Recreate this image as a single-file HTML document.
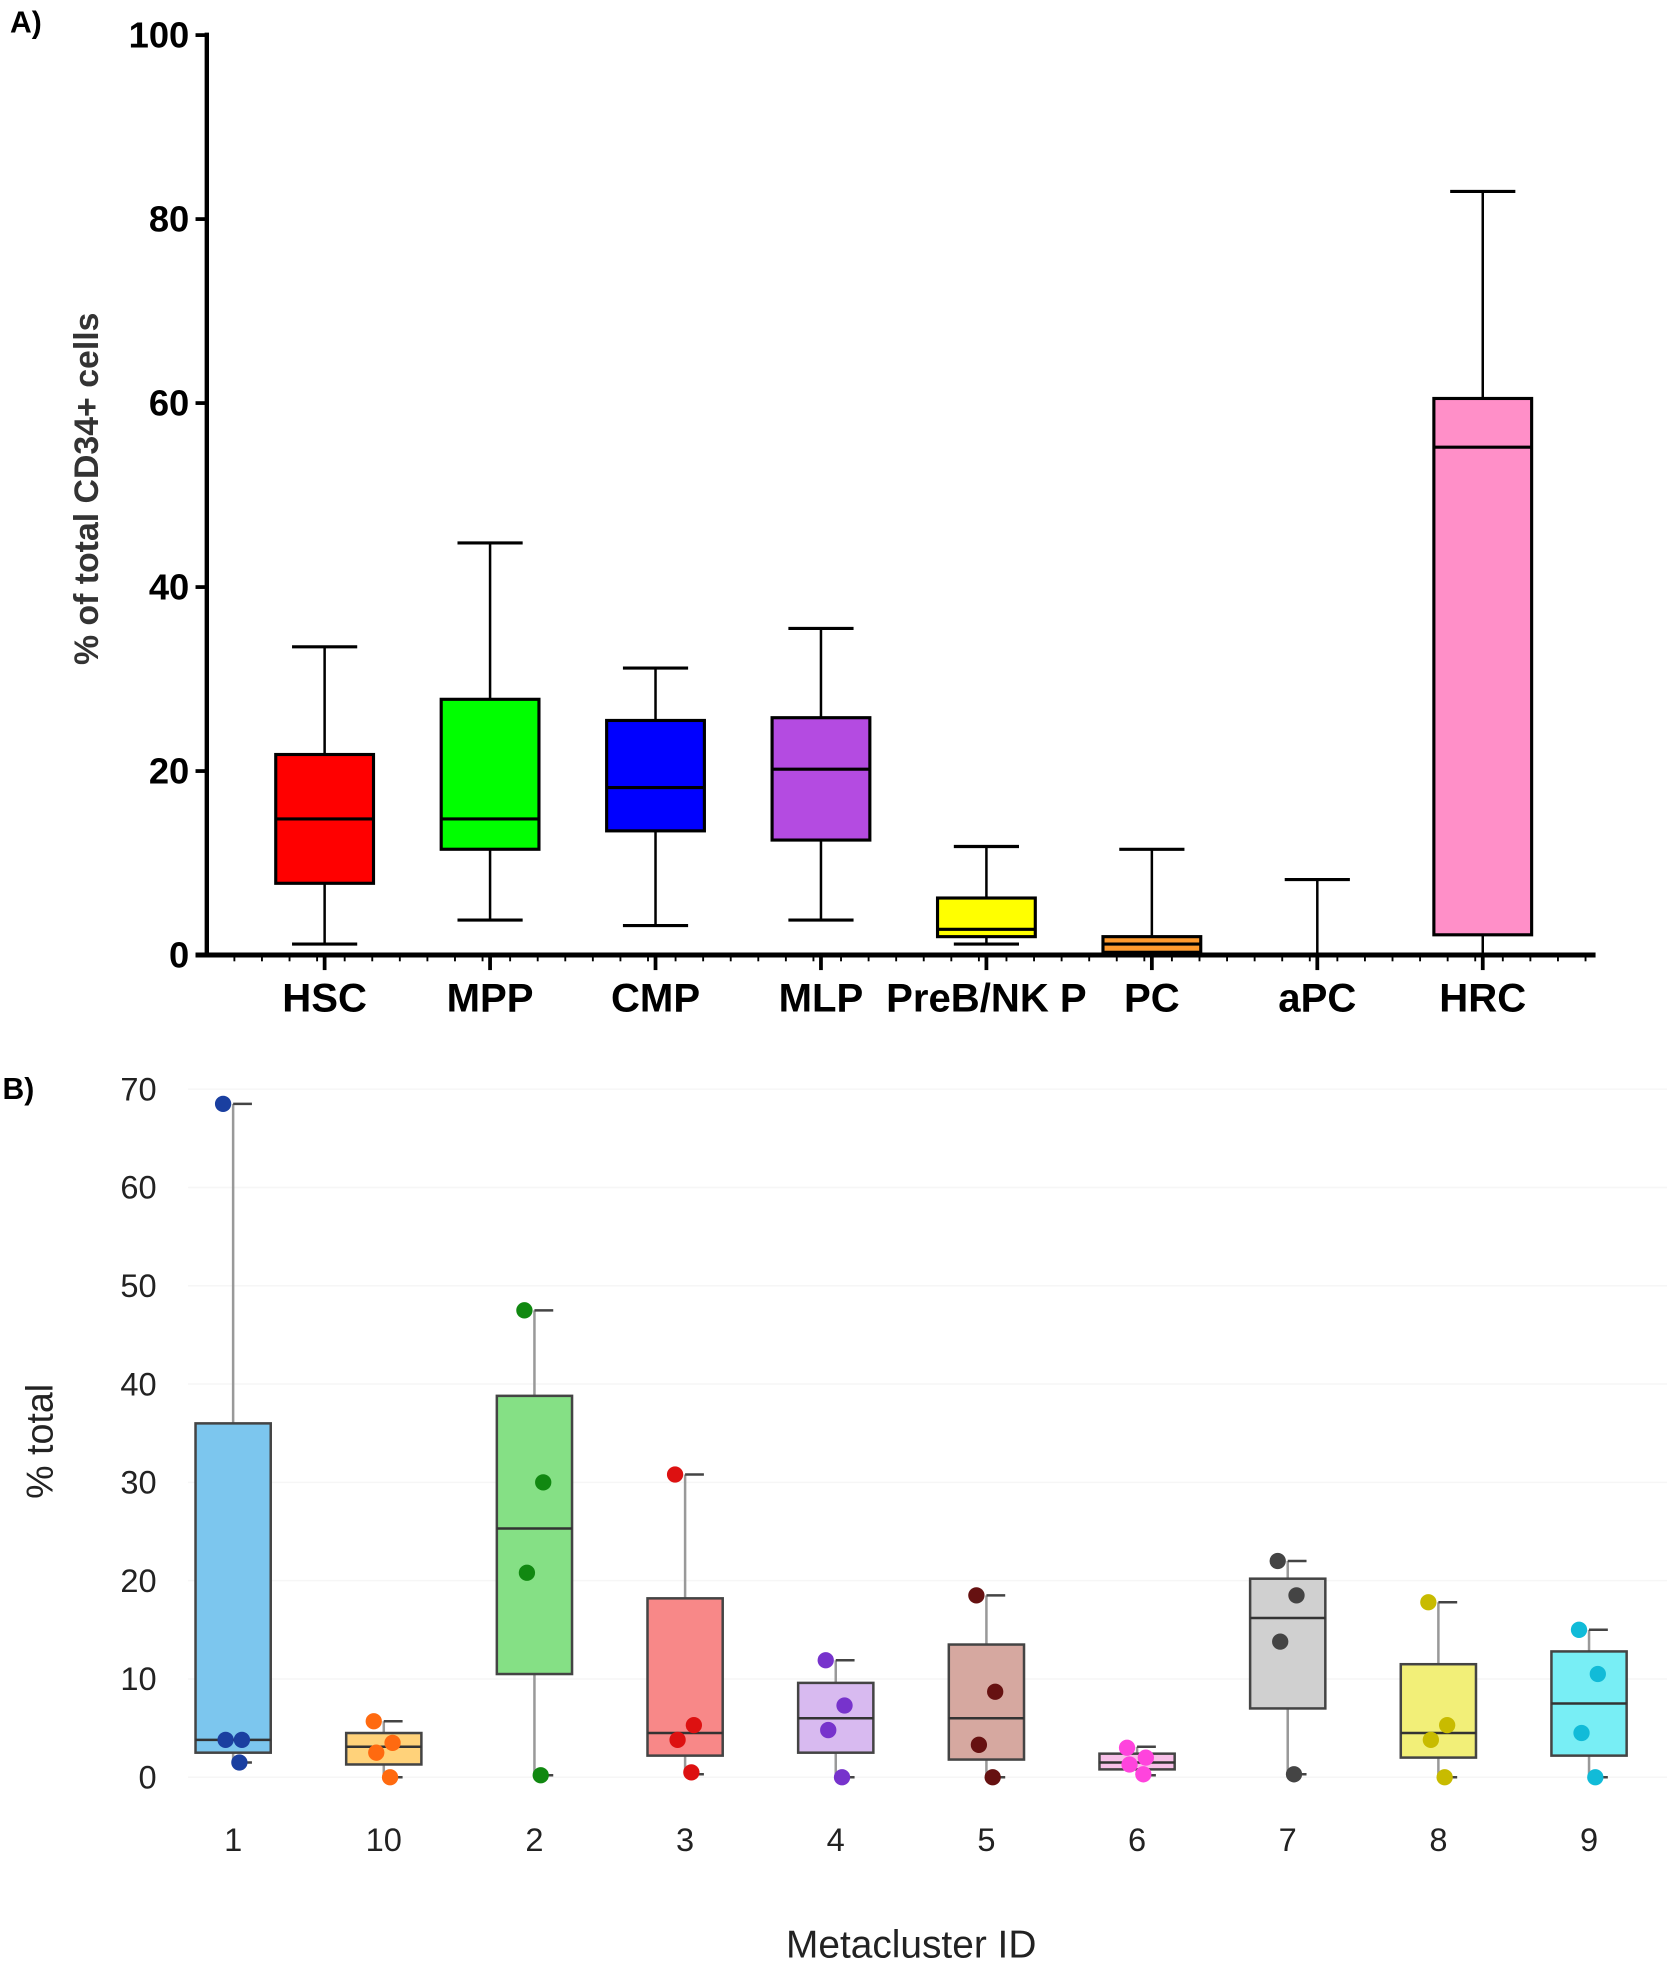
<!DOCTYPE html>
<html><head><meta charset="utf-8"><style>
html,body{margin:0;padding:0;background:#fff}
svg{display:block}
text{font-family:"Liberation Sans",sans-serif}
.cond{font-family:"Liberation Sans Narrow","Liberation Sans",sans-serif}
</style></head><body>
<svg id="chart" width="1667" height="1964" viewBox="0 0 1330 1567" preserveAspectRatio="none" xmlns="http://www.w3.org/2000/svg">
<g id="panelA"></g>
<g id="panelB"></g>
</svg>
<script>
// ---------- Panel A data ----------
const aCategories = ["HSC","MPP","CMP","MLP","PreB/NK P","PC","aPC","HRC"];
const aMin = [1.2, 3.8, 3.2, 3.8, 1.2, 0, 0, 0];
const aQ1 = [7.8, 11.5, 13.5, 12.5, 2.0, 0.3, 0, 2.2];
const aMed = [14.8, 14.8, 18.2, 20.2, 2.8, 1.2, 0, 55.2];
const aQ3 = [21.8, 27.8, 25.5, 25.8, 6.2, 2.0, 0, 60.5];
const aMax = [33.5, 44.8, 31.2, 35.5, 11.8, 11.5, 8.2, 83];
const aColors = ["#ff0000","#00ff00","#0000ff","#b44be1","#ffff00","#ff9a2e","#999999","#ff8fc8"];
const aTicks = [0,20,40,60,80,100];

// ---------- Panel B data ----------
const bCategories = ["1","10","2","3","4","5","6","7","8","9"];
const bLo = [1.5, 0, 0.2, 0.3, 0, 0, 0.2, 0.3, 0, 0];
const bQ1 = [2.5, 1.3, 10.5, 2.2, 2.5, 1.8, 0.8, 7, 2, 2.2];
const bMed = [3.8, 3.1, 25.3, 4.5, 6, 6, 1.5, 16.2, 4.5, 7.5];
const bQ3 = [36, 4.5, 38.8, 18.2, 9.6, 13.5, 2.4, 20.2, 11.5, 12.8];
const bHi = [68.5, 5.7, 47.5, 30.8, 11.9, 18.5, 3.1, 22, 17.8, 15];
const bPoints = [[68.5,3.8,3.8,1.5],[5.7,3.5,2.5,0],[47.5,30,20.8,0.2],[30.8,5.3,3.8,0.5],[11.9,7.3,4.8,0],[18.5,8.7,3.3,0],[3.0,2.0,1.3,0.3],[22,18.5,13.8,0.3],[17.8,5.3,3.8,0],[15,10.5,4.5,0]];
const bFill = ["#7cc6ee","#ffd27a","#85e085","#f88888","#d8baf0","#d6a8a0","#f8c0e8","#d0d0d0","#f2ef78","#78eef5"];
const bDot = ["#1a3fa0","#ff6a10","#118811","#dd1111","#7733cc","#661111","#ff44dd","#444444","#c8bb00","#11bbd8"];
const bTicks = [0,10,20,30,40,50,60,70];

const NS="http://www.w3.org/2000/svg";
function mk(parent,tag,attrs,txt){const e=document.createElementNS(NS,tag);for(const k in attrs)e.setAttribute(k,attrs[k]);if(txt!==undefined)e.textContent=txt;parent.appendChild(e);return e;}

// ---------- Panel A ----------
(function(){
const g=document.getElementById('panelA');
const x0=165,x1=1273,yTop=28,yBot=762;
const y=v=>yBot-(v/100)*(yBot-yTop);
const xc=i=>259+i*132;
let t=mk(g,'text',{x:8,y:26,'font-size':24,'font-weight':'bold'},'A)');


for(let mx=x0+22;mx<x1;mx+=22){mk(g,'line',{x1:mx,x2:mx,y1:yBot,y2:yBot+5,stroke:'#000','stroke-width':1.5});}
aTicks.forEach(v=>{
  let l=mk(g,'line',{x1:x0-9,x2:x0,y1:y(v),y2:y(v),stroke:'#000','stroke-width':3});
  
  
  let tl=mk(g,'text',{x:x0-14,y:y(v)+10,'text-anchor':'end','font-size':29,'font-weight':'bold',class:'cond'},String(v));
  
  
});
let ax=mk(g,'line',{x1:x0,x2:x0,y1:yTop-2,y2:yBot+2,stroke:'#000','stroke-width':3.5});


let axx=mk(g,'line',{x1:x0-9,x2:x1,y1:yBot,y2:yBot,stroke:'#000','stroke-width':4});


let yt=mk(g,'text',{x:0,y:0,'font-size':27,'font-weight':'bold',fill:'#333','text-anchor':'middle',transform:'translate(78,390) rotate(-90)'},'% of total CD34+ cells');


const w=78;
aCategories.forEach((c,i)=>{
  const cx=xc(i);
  mk(g,'line',{x1:cx,x2:cx,y1:yBot,y2:yBot+12,stroke:'#000','stroke-width':3});
  let cl=mk(g,'text',{x:cx,y:807,'text-anchor':'middle','font-size':32,'font-weight':'bold',class:'cond'},c);
  
  
  const bg=mk(g,'g',{});
  
  
  mk(bg,'line',{x1:cx,x2:cx,y1:y(aMax[i]),y2:y(aQ3[i]),stroke:'#000','stroke-width':2});
  mk(bg,'line',{x1:cx,x2:cx,y1:y(aQ1[i]),y2:y(aMin[i]),stroke:'#000','stroke-width':2});
  mk(bg,'line',{x1:cx-w/3,x2:cx+w/3,y1:y(aMax[i]),y2:y(aMax[i]),stroke:'#000','stroke-width':2.5});
  mk(bg,'line',{x1:cx-w/3,x2:cx+w/3,y1:y(aMin[i]),y2:y(aMin[i]),stroke:'#000','stroke-width':2.5});
  if(aQ3[i]>aQ1[i]){
    mk(bg,'rect',{x:cx-w/2,y:y(aQ3[i]),width:w,height:y(aQ1[i])-y(aQ3[i]),fill:aColors[i],stroke:'#000','stroke-width':2.5});
    mk(bg,'line',{x1:cx-w/2,x2:cx+w/2,y1:y(aMed[i]),y2:y(aMed[i]),stroke:'#000','stroke-width':2.5});
  }
});
})();

// ---------- Panel B ----------
(function(){
const g=document.getElementById('panelB');
const x0=150,x1=1330,y0=1418,y70=869;
const y=v=>y0-(v/70)*(y0-y70);
const xc=i=>186+i*120.2;
let t=mk(g,'text',{x:2,y:877,'font-size':24,'font-weight':'bold'},'B)');


bTicks.forEach(v=>{
  let gl=mk(g,'line',{x1:x0,x2:x1,y1:y(v),y2:y(v),stroke:'#f6f6f6','stroke-width':1.2});
  
  
  let tl=mk(g,'text',{x:125,y:y(v)+9,'text-anchor':'end','font-size':26,fill:'#222'},String(v));
  
  
});
let yt=mk(g,'text',{x:0,y:0,'font-size':30,fill:'#222','text-anchor':'middle',transform:'translate(42,1150) rotate(-90)'},'% total');


let xt=mk(g,'text',{x:727,y:1562,'font-size':31,fill:'#222','text-anchor':'middle'},'Metacluster ID');


const w=60, jit=[-8,7,-6,5];
bCategories.forEach((c,i)=>{
  const cx=xc(i);
  let cl=mk(g,'text',{x:cx,y:1477,'text-anchor':'middle','font-size':26,fill:'#222'},c);
  
  
  const bg=mk(g,'g',{});
  
  
  mk(bg,'line',{x1:cx,x2:cx,y1:y(bHi[i]),y2:y(bQ3[i]),stroke:'#999','stroke-width':2});
  mk(bg,'line',{x1:cx,x2:cx,y1:y(bQ1[i]),y2:y(bLo[i]),stroke:'#999','stroke-width':2});
  mk(bg,'line',{x1:cx,x2:cx+w/4,y1:y(bHi[i]),y2:y(bHi[i]),stroke:'#444','stroke-width':2});
  mk(bg,'line',{x1:cx,x2:cx+w/4,y1:y(bLo[i]),y2:y(bLo[i]),stroke:'#444','stroke-width':2});
  mk(bg,'rect',{x:cx-w/2,y:y(bQ3[i]),width:w,height:y(bQ1[i])-y(bQ3[i]),fill:bFill[i],stroke:'#444','stroke-width':2});
  mk(bg,'line',{x1:cx-w/2,x2:cx+w/2,y1:y(bMed[i]),y2:y(bMed[i]),stroke:'#333','stroke-width':2});
  bPoints[i].forEach((p,k)=>{
    let d=mk(bg,'circle',{cx:cx+jit[k],cy:y(p),r:6.5,fill:bDot[i]});
    
    
  });
});
})();
</script>
</body></html>
